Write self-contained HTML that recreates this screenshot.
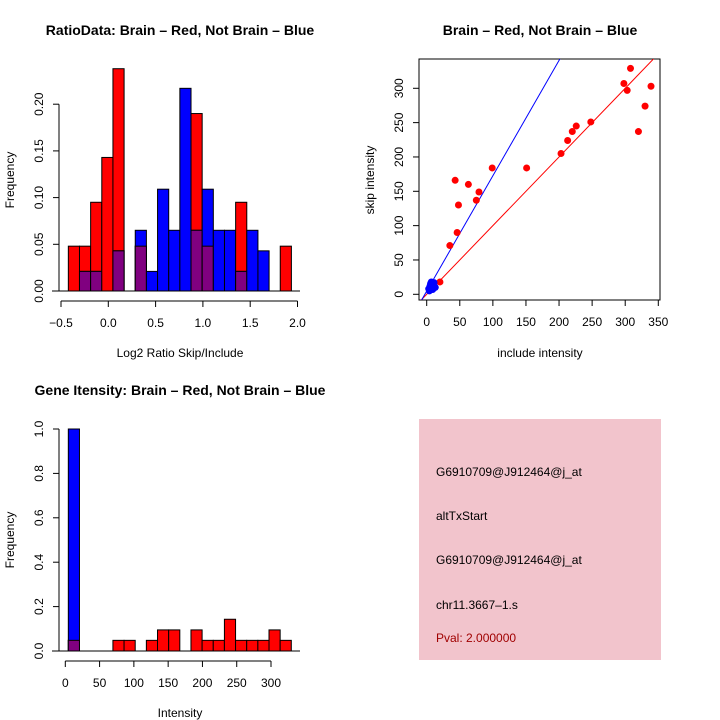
<!DOCTYPE html>
<html><head><meta charset="utf-8"><style>
body{margin:0;background:#fff}
svg{display:block;font-family:"Liberation Sans",sans-serif}
</style></head><body>
<svg id="chart" width="720" height="720" viewBox="0 0 720 720" xmlns="http://www.w3.org/2000/svg">
<rect width="720" height="720" fill="#fff"/>
<text x="180" y="35" text-anchor="middle" font-size="14" font-weight="bold">RatioData: Brain – Red, Not Brain – Blue</text>
<text x="540" y="35" text-anchor="middle" font-size="14" font-weight="bold">Brain – Red, Not Brain – Blue</text>
<text x="180" y="395" text-anchor="middle" font-size="14" font-weight="bold">Gene Itensity: Brain – Red, Not Brain – Blue</text>
<g id="g1"></g>
<g id="g2"></g>
<g id="g3"></g>
<g>
<rect x="419" y="419" width="242" height="241" fill="#f2c4cc"/>
<text x="436" y="476" font-size="12">G6910709@J912464@j_at</text>
<text x="436" y="520" font-size="12">altTxStart</text>
<text x="436" y="564" font-size="12">G6910709@J912464@j_at</text>
<text x="436" y="609" font-size="12">chr11.3667–1.s</text>
<text x="436" y="642" font-size="12" fill="#a00000">Pval: 2.000000</text>
</g>
</svg>
<script>
// Ratio histogram data
const ratioBinStart = -0.4225;
const ratioBinWidth = 0.1179;
const ratioRed  = [0.048,0.048,0.095,0.143,0.238,0,0.048,0,0,0,0,0.190,0.048,0,0,0.095,0,0,0,0.048];
const ratioBlue = [0,0.021,0.021,0,0.043,0,0.065,0.021,0.109,0.065,0.217,0.065,0.109,0.065,0.065,0.021,0.065,0.043,0,0];
const ratioXTicks = [-0.5,0,0.5,1.0,1.5,2.0];
const ratioXLabels = ["−0.5","0.0","0.5","1.0","1.5","2.0"];
const ratioYTicks = [0,0.05,0.10,0.15,0.20];
const ratioYLabels = ["0.00","0.05","0.10","0.15","0.20"];
// Scatter data
const redX = [20,35,43,46,48,63,75,79,99,151,203,213,220,226,248,298,303,308,320,330,339];
const redY = [18,71,166,90,130,160,137,149,184,184,205,224,237,245,251,307,297,329,237,274,303];
const blueX = [3,5,6,8,10,12,4,7,9,11,6,13];
const blueY = [8,12,16,10,14,11,5,18,7,17,15,10];
const redLine = [0,1.0];
const blueLine = [4.6,1.68];
const scXTicks = [0,50,100,150,200,250,300,350];
const scYTicks = [0,50,100,150,200,250,300];
// Intensity histogram data
const intBinStart = 4.4;
const intBinWidth = 16.26;
const intRed  = [0.048,0,0,0,0.048,0.048,0,0.048,0.095,0.095,0,0.095,0.048,0.048,0.143,0.048,0.048,0.048,0.095,0.048];
const intBlue = [1.0,0,0,0,0,0,0,0,0,0,0,0,0,0,0,0,0,0,0,0];
const intXTicks = [0,50,100,150,200,250,300];
const intYTicks = [0,0.2,0.4,0.6,0.8,1.0];
const intYLabels = ["0.0","0.2","0.4","0.6","0.8","1.0"];

const NS="http://www.w3.org/2000/svg";
function mk(parent,tag,attrs,text){const e=document.createElementNS(NS,tag);for(const k in attrs)e.setAttribute(k,attrs[k]);if(text!==undefined)e.textContent=text;parent.appendChild(e);return e;}

function hist(g,start,w,red,blue,sx,sy,name){
  for(let i=0;i<red.length;i++){
    const x0=sx(start+i*w),x1=sx(start+(i+1)*w);
    const r=red[i],b=blue[i],m=Math.min(r,b);
    if(r>0){const e=mk(g,'rect',{x:x0,y:sy(r),width:x1-x0,height:sy(0)-sy(r),fill:'#ff0000',stroke:'#000','stroke-width':1});
      
      }
    if(b>0){const e=mk(g,'rect',{x:x0,y:sy(b),width:x1-x0,height:sy(0)-sy(b),fill:'#0000ff',stroke:'#000','stroke-width':1});
      
      }
    if(m>0){const e=mk(g,'rect',{x:x0,y:sy(m),width:x1-x0,height:sy(0)-sy(m),fill:'#800080',stroke:'#000','stroke-width':1});
      
      }
  }
}
function xAxis(g,ticks,labels,sx,y,name){
  const l=mk(g,'line',{x1:sx(ticks[0]),x2:sx(ticks[ticks.length-1]),y1:y,y2:y,stroke:'#000'});
  
  
  ticks.forEach((t,i)=>{mk(g,'line',{x1:sx(t),x2:sx(t),y1:y,y2:y+6,stroke:'#000'});
    const e=mk(g,'text',{x:sx(t),y:y+26,'text-anchor':'middle','font-size':12},labels[i]);
    
    });
}
function yAxis(g,ticks,labels,sy,x,name){
  const l=mk(g,'line',{x1:x,x2:x,y1:sy(ticks[0]),y2:sy(ticks[ticks.length-1]),stroke:'#000'});
  
  
  ticks.forEach((t,i)=>{mk(g,'line',{x1:x,x2:x-6,y1:sy(t),y2:sy(t),stroke:'#000'});
    const tx=x-16;
    const e=mk(g,'text',{x:tx,y:sy(t),'text-anchor':'middle','font-size':12,transform:`rotate(-90 ${tx} ${sy(t)})`},labels[i]);
    
    });
}
function label(g,x,y,txt,rot,name){
  const e=mk(g,'text',{x:x,y:y,'text-anchor':'middle','font-size':12,transform:rot?`rotate(-90 ${x} ${y})`:''},txt);
  
  
}

// Plot 1
(function(){
  const g=document.getElementById('g1');
  const sx=v=>108.3+v*94.6, sy=v=>291-v*934;
  hist(g,ratioBinStart,ratioBinWidth,ratioRed,ratioBlue,sx,sy,'ratio');
  mk(g,'line',{x1:52,x2:300,y1:291,y2:291,stroke:'#000'});
  xAxis(g,ratioXTicks,ratioXLabels,sx,301,'ratio');
  yAxis(g,ratioYTicks,ratioYLabels,sy,59,'ratio');
  label(g,180,357,'Log2 Ratio Skip/Include',false,'ratio-x-axis-title');
  label(g,14,180,'Frequency',true,'ratio-y-axis-title');
})();
// Plot 2
(function(){
  const g=document.getElementById('g2');
  const sx=v=>426.7+v*0.6617, sy=v=>294.3-v*0.6867;
  const cp=mk(g,'clipPath',{id:'cp'});mk(cp,'rect',{x:419,y:59,width:241,height:241});
  const box=mk(g,'rect',{x:419,y:59,width:241,height:241,fill:'none',stroke:'#000'});
  
  
  const lg=mk(g,'g',{'clip-path':'url(#cp)'});
  const rl=mk(lg,'line',{x1:sx(-20),y1:sy(redLine[0]+redLine[1]*-20),x2:sx(400),y2:sy(redLine[0]+redLine[1]*400),stroke:'#ff0000','stroke-width':1});
  
  
  const bl=mk(lg,'line',{x1:sx(-20),y1:sy(blueLine[0]+blueLine[1]*-20),x2:sx(400),y2:sy(blueLine[0]+blueLine[1]*400),stroke:'#0000ff','stroke-width':1});
  
  
  redX.forEach((x,i)=>{const c=mk(g,'circle',{cx:sx(x),cy:sy(redY[i]),r:3.5,fill:'#ff0000'});
    
    });
  blueX.forEach((x,i)=>{const c=mk(g,'circle',{cx:sx(x),cy:sy(blueY[i]),r:3.5,fill:'#0000ff'});
    
    });
  xAxis(g,scXTicks,scXTicks.map(String),sx,300,'scatter');
  yAxis(g,scYTicks,scYTicks.map(String),sy,419,'scatter');
  label(g,540,357,'include intensity',false,'scatter-x-axis-title');
  label(g,374,180,'skip intensity',true,'scatter-y-axis-title');
})();
// Plot 3
(function(){
  const g=document.getElementById('g3');
  const sx=v=>65.3+v*0.6857, sy=v=>651-v*222;
  hist(g,intBinStart,intBinWidth,intRed,intBlue,sx,sy,'intensity');
  mk(g,'line',{x1:52,x2:300,y1:651,y2:651,stroke:'#000'});
  xAxis(g,intXTicks,intXTicks.map(String),sx,661,'intensity');
  yAxis(g,intYTicks,intYLabels,sy,59,'intensity');
  label(g,180,717,'Intensity',false,'intensity-x-axis-title');
  label(g,14,540,'Frequency',true,'intensity-y-axis-title');
})();
</script>
</body></html>
